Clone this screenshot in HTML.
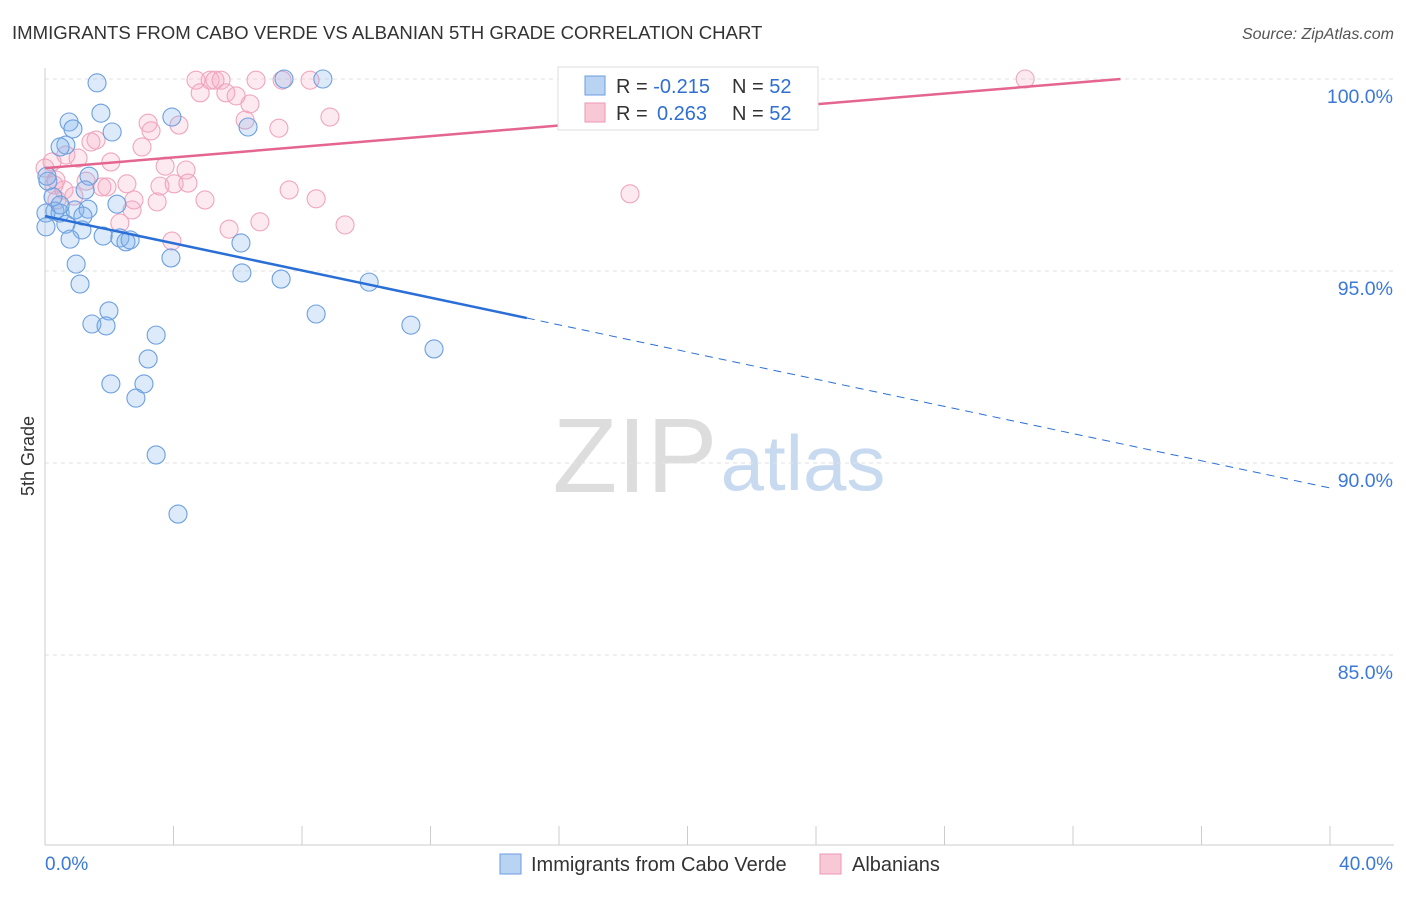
<!DOCTYPE html>
<html><head><meta charset="utf-8"><style>
body{margin:0;background:#fff;font-family:"Liberation Sans",sans-serif}
svg text{font-family:"Liberation Sans",sans-serif}
</style></head><body>
<svg width="1406" height="892" xmlns="http://www.w3.org/2000/svg" id="chart">
<text x="12" y="39" font-size="18.6" fill="#333">IMMIGRANTS FROM CABO VERDE VS ALBANIAN 5TH GRADE CORRELATION CHART</text>
<text x="1394" y="39" font-size="16" fill="#555" text-anchor="end" font-style="italic">Source: ZipAtlas.com</text>
<text x="34" y="456" font-size="18" fill="#333" transform="rotate(-90 34 456)" text-anchor="middle">5th Grade</text>
<g><text x="635" y="492" font-size="106" fill="#ddd" font-family="Liberation Serif" text-anchor="middle">ZIP</text><text x="803" y="490" font-size="78" fill="#c8daf0" text-anchor="middle">atlas</text></g>
<g id="grid"></g><g id="axes"></g><g id="pts"></g><g id="lines"></g>
<g>
<rect x="558" y="67" width="260" height="63" fill="#fff" stroke="#ddd"/>
<rect x="585" y="76" width="20" height="19" fill="#b9d3f3" stroke="#6b9ee0"/>
<rect x="585" y="103" width="20" height="19" fill="#f9c8d6" stroke="#ee97b2"/>
<text x="616" y="93" font-size="20" fill="#333">R = <tspan fill="#2f6fd1">-0.215</tspan><tspan x="732">N = </tspan><tspan fill="#2f6fd1">52</tspan></text>
<text x="616" y="120" font-size="20" fill="#333">R = <tspan fill="#2f6fd1" x="657">0.263</tspan><tspan x="732">N = </tspan><tspan fill="#2f6fd1">52</tspan></text>
</g>
<g>
<rect x="500" y="854" width="21" height="20" fill="#b9d3f3" stroke="#6b9ee0"/>
<text x="531" y="871" font-size="20" fill="#333">Immigrants from Cabo Verde</text>
<rect x="820" y="854" width="21" height="20" fill="#f9c8d6" stroke="#ee97b2"/>
<text x="852" y="871" font-size="20" fill="#333">Albanians</text>
</g>
</svg>
<script>
const blueX=[1.62,1.74,0.75,2.09,3.95,0.87,0.65,0.47,6.32,7.44,8.65,1.37,1.25,0.09,0.25,0.31,0.47,0.03,0.93,1.34,2.24,1.18,0.65,0.03,1.15,1.81,2.33,2.52,0.78,6.10,3.92,6.13,7.35,10.09,0.97,1.09,1.99,1.46,1.90,8.44,11.39,12.11,3.46,3.21,2.05,3.08,2.83,3.46,4.14,0.06,2.65,0.47];
const blueY=[99.90,99.11,98.88,98.62,99.01,98.70,98.28,98.23,98.75,100,100,97.47,97.11,97.34,96.93,96.56,96.51,96.51,96.59,96.61,96.74,96.43,96.22,96.15,96.07,95.91,95.86,95.76,95.83,95.73,95.34,94.95,94.79,94.71,95.18,94.66,93.96,93.62,93.57,93.88,93.59,92.97,93.33,92.71,92.06,92.06,91.69,90.21,88.67,97.47,95.81,96.72];
const pinkX=[4.70,5.14,5.29,5.48,6.57,7.38,8.25,30.51,4.83,5.63,5.95,6.38,6.23,8.87,7.28,3.21,3.30,4.17,1.59,1.43,0.65,1.03,0.22,2.05,3.02,3.74,4.39,0.34,1.28,0.37,1.77,1.93,2.55,3.58,4.02,4.45,4.98,2.77,3.49,7.60,8.44,9.34,6.69,5.73,2.71,2.33,3.95,18.21,0,0.59,0.90,0.28];
const pinkY=[99.97,99.97,99.97,99.97,99.97,99.97,99.97,100,99.64,99.64,99.56,99.35,98.93,99.01,98.72,98.85,98.65,98.80,98.41,98.36,98.02,97.94,97.84,97.84,98.23,97.73,97.63,97.37,97.34,96.85,97.19,97.19,97.27,97.21,97.27,97.29,96.85,96.85,96.80,97.11,96.88,96.20,96.28,96.09,96.59,96.25,95.78,97.01,97.68,97.11,96.95,97.24];
const yTicks=[100,95,90,85];
const yTickLabels=["100.0%","95.0%","90.0%","85.0%"];
const blueTrend=[96.43,-0.177];
const pinkTrend=[97.68,0.0693];
const NS="http://www.w3.org/2000/svg";
const X=v=>45+v/40*1285, Y=v=>79+(100-v)/5*192;
function mk(p,t,a){const e=document.createElementNS(NS,t);for(const k in a)e.setAttribute(k,a[k]);p.appendChild(e);return e;}
const grid=document.getElementById('grid'),axes=document.getElementById('axes'),pts=document.getElementById('pts'),lines=document.getElementById('lines');
yTicks.forEach((t,i)=>{
 const l=mk(grid,'line',{x1:45,x2:1394,y1:Y(t),y2:Y(t),stroke:'#e2e2e2','stroke-dasharray':'4,4'});
 
 
 const tx=mk(grid,'text',{x:1393,y:Y(t)+24,'font-size':19.5,fill:'#3b78d8','text-anchor':'end'});
 tx.textContent=yTickLabels[i];
 
 
});
mk(axes,'line',{x1:45,x2:45,y1:68,y2:845,stroke:'#ccc'});
mk(axes,'line',{x1:45,x2:1394,y1:845,y2:845,stroke:'#ccc'});
for(let i=0;i<=10;i++){const t=mk(axes,'line',{x1:X(i*4),x2:X(i*4),y1:826,y2:845,stroke:'#ccc'});
 
 }
const xl=mk(axes,'text',{x:45,y:870,'font-size':19,fill:'#3b78d8'});xl.textContent='0.0%';


const xr=mk(axes,'text',{x:1393,y:870,'font-size':19,fill:'#3b78d8','text-anchor':'end'});xr.textContent='40.0%';


pinkX.forEach((v,i)=>{const c=mk(pts,'circle',{cx:X(v),cy:Y(pinkY[i]),r:9,fill:'rgba(246,170,196,0.25)',stroke:'#f0a5bd','stroke-width':1.1});
 
 });
blueX.forEach((v,i)=>{const c=mk(pts,'circle',{cx:X(v),cy:Y(blueY[i]),r:9,fill:'rgba(130,178,238,0.28)',stroke:'#6d9fe0','stroke-width':1.1});
 
 });
const bf=x=>blueTrend[0]+blueTrend[1]*x;
const b1=mk(lines,'line',{x1:X(0),y1:Y(bf(0)),x2:X(15),y2:Y(bf(15)),stroke:'#2a6fd6','stroke-width':2.5});


const b2=mk(lines,'line',{x1:X(15),y1:Y(bf(15)),x2:X(40),y2:Y(bf(40)),stroke:'#2a6fd6','stroke-width':1,'stroke-dasharray':'8,6'});


const pEnd=(100-pinkTrend[0])/pinkTrend[1];
const p1=mk(lines,'line',{x1:X(0),y1:Y(pinkTrend[0]),x2:X(pEnd),y2:Y(100),stroke:'#e4658f','stroke-width':2.5});


</script>
</body></html>
